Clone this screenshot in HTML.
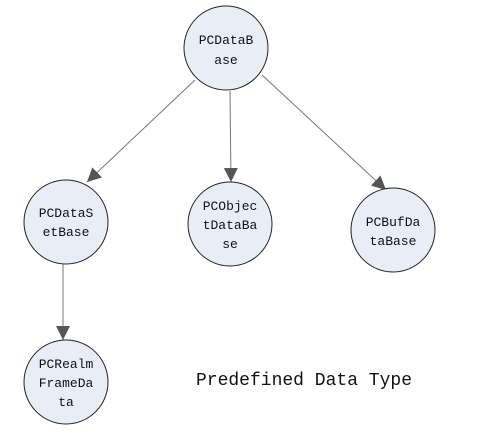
<!DOCTYPE html>
<html><head><meta charset="utf-8"><style>
html,body{margin:0;padding:0;background:#fff;}
svg text{font-family:"Liberation Mono","DejaVu Sans Mono",monospace;font-size:13px;fill:#111;text-anchor:middle;}
</style></head><body>
<svg width="478" height="430" viewBox="0 0 478 430" xmlns="http://www.w3.org/2000/svg">
<defs><marker id="a" viewBox="0 0 10 10" refX="10" refY="5" markerWidth="14" markerHeight="14" markerUnits="userSpaceOnUse" orient="auto"><path d="M0,0 L10,5 L0,10 z" fill="#555"/></marker></defs>
<g stroke="#777" stroke-width="1" fill="none">
<line x1="195" y1="80" x2="87" y2="182" marker-end="url(#a)"/>
<line x1="230" y1="91" x2="231" y2="182" marker-end="url(#a)"/>
<line x1="262" y1="75" x2="386" y2="190" marker-end="url(#a)"/>
<line x1="63" y1="264" x2="63" y2="340" marker-end="url(#a)"/>
</g>
<g fill="#e8eef8" stroke="#222" stroke-width="1">
<circle cx="226" cy="48" r="42"/>
<circle cx="66" cy="222" r="42"/>
<circle cx="230" cy="224" r="42"/>
<circle cx="393" cy="230" r="42"/>
<circle cx="66" cy="382" r="42"/>
</g>
<text x="226" y="44">PCDataB</text><text x="226" y="64">ase</text>
<text x="66" y="217">PCDataS</text><text x="66" y="236">etBase</text>
<text x="230" y="210">PCObjec</text><text x="230" y="229">tDataBa</text><text x="230" y="248">se</text>
<text x="393" y="226">PCBufDa</text><text x="393" y="245">taBase</text>
<text x="66" y="368">PCRealm</text><text x="66" y="387">FrameDa</text><text x="66" y="406">ta</text>
<text x="304" y="385" style="font-size:18px;">Predefined Data Type</text>
</svg>
</body></html>
